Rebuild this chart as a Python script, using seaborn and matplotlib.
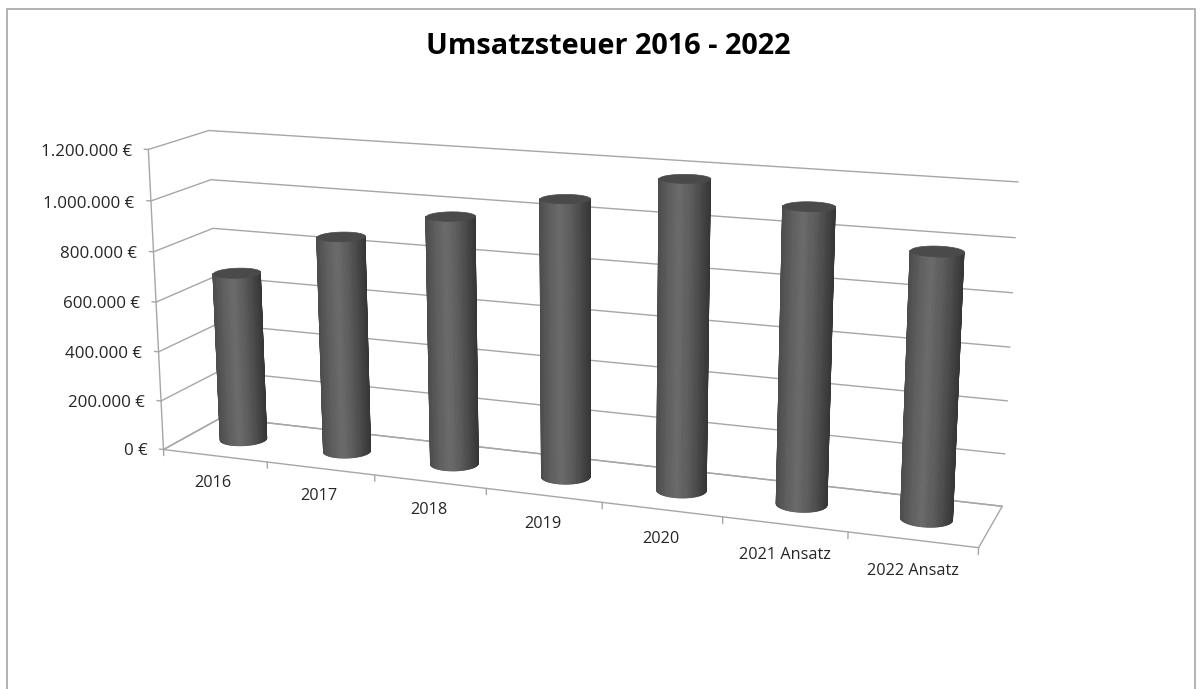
import numpy as np
import seaborn as sns
import matplotlib
matplotlib.use('Agg')
import matplotlib.pyplot as plt
from matplotlib.patches import Rectangle
from mpl_toolkits.mplot3d import proj3d
from mpl_toolkits.mplot3d.art3d import Poly3DCollection

years = ['2016', '2017', '2018', '2019', '2020', '2021 Ansatz', '2022 Ansatz']
umsatzsteuer = [685000, 865000, 977000, 1075000, 1180000, 1110000, 983000]
z_ticks = [0, 200000, 400000, 600000, 800000, 1000000, 1200000]
z_labels = ['0 €', '200.000 €', '400.000 €', '600.000 €', '800.000 €', '1.000.000 €', '1.200.000 €']

sns.set_theme(style='white')
plt.rcParams['font.family'] = ['Open Sans', 'DejaVu Sans']

W, H = 1203, 689
# camera fitted against the frame of the original chart
elev, azim, roll, focal = 14.483, -69.220, 0.185, 0.4560
box_b, box_c = 0.1435, 0.3723
scale, cx, cy = 4884.3, 565.3, 323.7

side = scale * 0.185
left_px = cx - 0.095 * scale
bottom_px = H - cy - 0.095 * scale

fig = plt.figure(figsize=(W / 100, H / 100), dpi=100, facecolor='white')
ax = fig.add_axes([left_px / W, bottom_px / H, side / W, side / H], projection='3d', computed_zorder=False)
ax.set_xlim(0, 7, view_margin=0)
ax.set_ylim(0, 1, view_margin=0)
ax.set_zlim(0, 1200000, view_margin=0)
ax.view_init(elev, azim, roll)
ax.set_proj_type('persp', focal_length=focal)
ax.set_box_aspect((1, box_b, box_c))
ax.set_axis_off()
ax.patch.set_alpha(0)

# walls and floor
line = dict(color='#a6a6a6', lw=1.0, zorder=1, clip_on=False)
for z in z_ticks:
    ax.plot([0, 0, 7], [0, 1, 1], [z, z, z], **line)
    ax.plot([-0.04, 0], [0, 0], [z, z], **line)
ax.plot([0, 7, 7, 0, 0], [0, 0, 1, 1, 0], [0, 0, 0, 0, 0], **line)
ax.plot([0, 0], [0, 0], [0, 1200000], **line)
for i in range(8):
    ax.plot([i, i], [0, 0], [0, -25000], **line)

# cylinders, the section is kept level on screen, only the half facing the camera is drawn
sx = ax._box_aspect[0] / 7
sy = ax._box_aspect[1]
cam_x = 10 * focal * np.cos(np.radians(elev)) * np.cos(np.radians(azim))
cam_y = 10 * focal * np.cos(np.radians(elev)) * np.sin(np.radians(azim))
r_wide = 0.2 * sx
r_deep = r_wide * 0.95
shades = sns.blend_palette(['#4c4c4c', '#5e5e5e', '#6a6a6a', '#5e5e5e', '#4a4a4a', '#353535'], n_colors=41)


def section(xc, facing, angles):
    along = r_wide * np.sin(angles)
    toward = r_deep * np.cos(angles)
    xs = xc + (-np.sin(facing) * along + np.cos(facing) * toward) / sx
    ys = 0.5 + (np.cos(facing) * along + np.sin(facing) * toward) / sy
    return xs, ys


for i, v in enumerate(umsatzsteuer):
    xc = i + 0.5
    facing = np.arctan2(cam_y, cam_x - (xc - 3.5) * sx)
    t = np.linspace(-np.pi / 2, np.pi / 2, 61)
    xs, ys = section(xc, facing, t)
    Xc = np.vstack([xs, xs])
    Yc = np.vstack([ys, ys])
    Zc = np.vstack([np.zeros_like(t), np.full_like(t, v)])
    mid = (t[:-1] + t[1:]) / 2
    idx = np.round((1 + np.sin(mid)) / 2 * 40).astype(int)
    fc = np.array([[shades[k] for k in idx]])
    ax.plot_surface(Xc, Yc, Zc, facecolors=fc, rstride=1, cstride=1, shade=False,
                    linewidth=0.7, zorder=5 + 2 * i)
    tt = np.linspace(0, 2 * np.pi, 81)
    xt, yt = section(xc, facing, tt)
    ax.add_collection3d(Poly3DCollection([list(zip(xt, yt, np.full_like(tt, v)))],
                                         facecolor='#4a4a4a', edgecolor='#4a4a4a', lw=0.5, zorder=6 + 2 * i))


def label_at(x, y, z, text, **kw):
    # put the label through the 3d projection, then as a plain 2d text
    X, Y, _ = proj3d.proj_transform(x, y, z, ax.get_proj())
    ax.text2D(X, Y, text, transform=ax.transData, va='center', color='#262626', **kw)


for z, lab in zip(z_ticks, z_labels):
    label_at(-0.16, 0, z - 15000, lab, ha='right', fontsize=12.2)
for i, lab in enumerate(years):
    label_at(i + 0.53, -0.1, -97000, lab, ha='center', fontsize=11.7)

fig.text(608 / W, 1 - 46 / H, 'Umsatzsteuer 2016 - 2022', ha='center', va='center',
         fontsize=20.8, fontweight='bold', color='black')
fig.add_artist(Rectangle((7 / W, -0.05), 1188 / W, 1.05 - 8.5 / H, transform=fig.transFigure,
                         fill=False, ec='#a6a6a6', lw=1.2))
fig.savefig('out.png', dpi=100)
